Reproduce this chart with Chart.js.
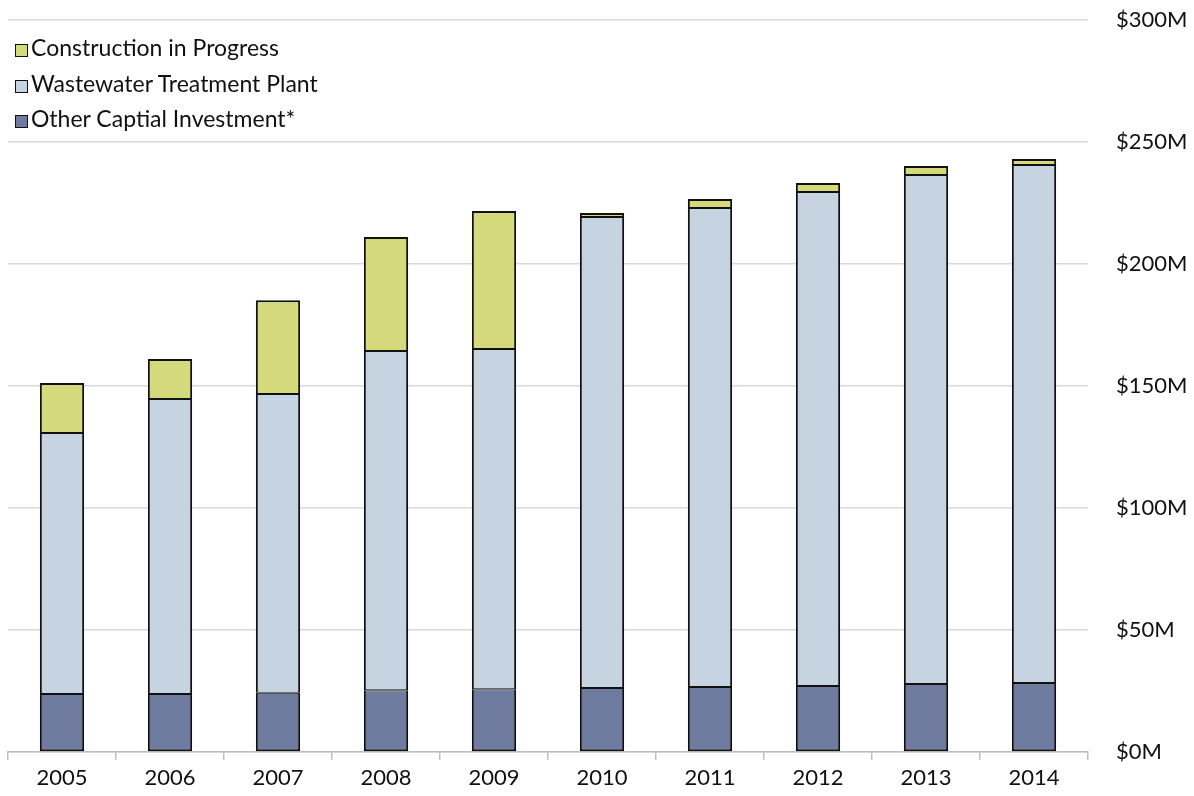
<!DOCTYPE html>
<html>
<head>
<meta charset="utf-8">
<script src="https://cdn.jsdelivr.net/npm/chart.js@4"></script>
<style>
  html, body { margin: 0; padding: 0; background: #fff; }
  #wrap { position: relative; width: 1194px; height: 796px; }
  #legend { position: absolute; left: 15px; top: 31px; font-family: Lato, sans-serif; font-size: 23px; color: #111; }
  #legend div { height: 35.5px; line-height: 32px; white-space: nowrap; }
  #legend span.box { display: inline-block; width: 11px; height: 11px; border: 1.6px solid #111; margin-right: 3px; vertical-align: -1px; }
</style>
</head>
<body>
<div id="wrap">
  <canvas id="myChart"></canvas>
  <div id="legend"></div>
</div>
<script>
const years = ['2005', '2006', '2007', '2008', '2009', '2010', '2011', '2012', '2013', '2014'];
// values in $M
const otherCapital = [23.8, 23.8, 24.3, 25.3, 25.7, 26.2, 26.6, 27.0, 27.9, 28.3];
const treatmentPlant = [106.9, 120.9, 122.4, 139.0, 139.5, 193.1, 196.4, 202.5, 208.6, 212.3];
const constructionInProgress = [20.5, 16.4, 38.4, 46.8, 56.5, 1.6, 3.6, 3.7, 3.7, 2.4];
const yTicks = [0, 50, 100, 150, 200, 250, 300];

const colors = {
  cip: '#D4DA7C',
  wwtp: '#C5D4E0',
  other: '#6F7A9F'
};

const fontFamily = 'Lato, sans-serif';
const outline = '#111';

// inner seams get 1px from each neighbour so every edge reads about 2px
const data = {
  labels: years,
  datasets: [
    {
      label: 'Other Captial Investment*',
      data: otherCapital,
      backgroundColor: colors.other,
      borderColor: outline,
      borderWidth: { top: 1, bottom: 2, left: 2, right: 2 },
      borderSkipped: false
    },
    {
      label: 'Wastewater Treatment Plant',
      data: treatmentPlant,
      backgroundColor: colors.wwtp,
      borderColor: outline,
      borderWidth: { top: 1, bottom: 1, left: 2, right: 2 },
      borderSkipped: false
    },
    {
      label: 'Construction in Progress',
      data: constructionInProgress,
      backgroundColor: colors.cip,
      borderColor: outline,
      borderWidth: { top: 2, bottom: 1, left: 2, right: 2 },
      borderSkipped: false
    }
  ]
};

// legend lists top of stack first
const legendEl = document.getElementById('legend');
data.datasets.slice().reverse().forEach(ds => {
  const row = document.createElement('div');
  row.innerHTML = '<span class="box" style="background:' + ds.backgroundColor + '"></span>' + ds.label;
  legendEl.appendChild(row);
});

const ctx = document.getElementById('myChart');
new Chart(ctx, {
  type: 'bar',
  data: data,
  options: {
    responsive: true,
    maintainAspectRatio: false,
    animation: false,
    layout: {
      padding: { left: 8, top: 20, right: 0, bottom: 0 }
    },
    plugins: {
      legend: { display: false },
      tooltip: { enabled: false }
    },
    datasets: {
      bar: {
        categoryPercentage: 1,
        barPercentage: 0.41,
        inflateAmount: 0
      }
    },
    scales: {
      x: {
        stacked: true,
        afterFit: axis => {
          axis.height = 44;
          axis.paddingLeft = 0;
          axis.paddingRight = 0;
        },
        grid: {
          offset: true,
          drawOnChartArea: false,
          drawTicks: true,
          tickLength: 8,
          color: '#BFBFBF',
          lineWidth: 1.5
        },
        border: { color: '#BFBFBF', width: 1.5 },
        ticks: {
          color: '#111',
          font: { family: fontFamily, size: 22 },
          padding: 5,
          maxRotation: 0
        }
      },
      y: {
        stacked: true,
        position: 'right',
        min: 0,
        max: 300,
        afterBuildTicks: axis => { axis.ticks = yTicks.map(v => ({ value: v })); },
        afterFit: axis => {
          axis.width = 106;
          axis.paddingTop = 0;
          axis.paddingBottom = 0;
        },
        grid: {
          color: '#D9D9D9',
          lineWidth: 1.5,
          drawTicks: false
        },
        border: { display: false },
        ticks: {
          color: '#111',
          font: { family: fontFamily, size: 22 },
          padding: 28,
          callback: v => '$' + v + 'M'
        }
      }
    }
  }
});
</script>
</body>
</html>
